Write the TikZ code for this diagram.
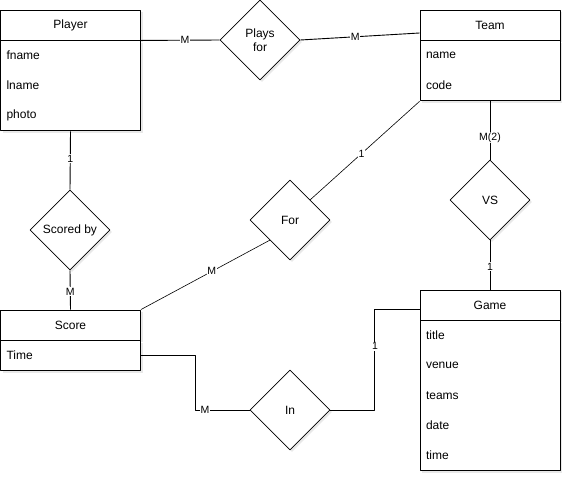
\documentclass[tikz,border=0pt]{standalone}
\usepackage{fontspec}
\setmainfont{Liberation Sans}
\usetikzlibrary{calc,shapes.geometric,shadows}

\tikzset{
	eshadow/.style={drop shadow={shadow xshift=2pt,shadow yshift=-2pt,opacity=0.18}},
	entity/.style={draw,fill=white,eshadow,minimum width=140pt,minimum height=30pt,inner sep=0pt,font=\fontsize{12}{14}\selectfont},
	attrbox/.style={draw,fill=white,eshadow,minimum width=140pt,inner sep=0pt,anchor=north},
	attr/.style={anchor=west,inner sep=0pt,font=\fontsize{12}{14}\selectfont},
	rel/.style={draw,diamond,aspect=1,fill=white,eshadow,minimum width=80pt,minimum height=80pt,inner sep=0pt,line width=0.6pt,font=\fontsize{12}{14}\selectfont,align=center},
	card/.style={fill=white,inner sep=0.8pt,font=\fontsize{10.5}{12}\selectfont},
}

\begin{document}
\begin{tikzpicture}[x=1pt,y=-1pt,line width=0.9pt,line join=round]
	\useasboundingbox (0,0) rectangle (572,482);
	% Entitaeten
	\node[entity] (player) at (70.5,25) {Player};
	\node[attrbox,minimum height=90pt] (playerA) at (player.south) {};
	\foreach \t [count=\i] in {fname,lname,photo}
		\node[attr] (player-\t) at ($(playerA.north west)+(6,{30*\i-15})$) {\t};
	\node[entity] (team) at (490,25) {Team};
	\node[attrbox,minimum height=60pt] (teamA) at (team.south) {};
	\foreach \t [count=\i] in {name,code}
		\node[attr] (team-\t) at ($(teamA.north west)+(6,{30*\i-15})$) {\t};
	\node[entity] (score) at (70.5,325) {Score};
	\node[attrbox,minimum height=30pt] (scoreA) at (score.south) {};
	\node[attr] (score-time) at ($(scoreA.north west)+(6,15)$) {Time};
	\node[entity] (game) at (490,305) {Game};
	\node[attrbox,minimum height=150pt] (gameA) at (game.south) {};
	\foreach \t [count=\i] in {title,venue,teams,date,time}
		\node[attr] (game-\t) at ($(gameA.north west)+(6,{30*\i-15})$) {\t};
	% Beziehungen
	\node[rel] (plays) at (260,40) {Plays\\for};
	\node[rel] (scored) at (70,230) {Scored by};
	\node[rel] (for) at (290,220) {For};
	\node[rel] (vs) at (490,200) {VS};
	\node[rel] (in) at (290,410) {In};
	% Verbindungen
	\coordinate (teamW) at ($(team.west)+(0,8)$);
	\coordinate (gameW) at ($(game.west)+(0,4)$);
	\coordinate (forSW) at ($(for.west)!0.5!(for.south)$);
	\coordinate (forNE) at ($(for.north)!0.5!(for.east)$);
	\coordinate (k1) at ($(scoreA.east)!0.5!(in.west)$);
	\coordinate (k2) at ($(in.east)!0.5!(gameW)$);
	\draw (player.south east) -- (plays.west) node[card,pos=0.56] {M};
	\draw (plays.east) -- (teamW) node[card,pos=0.46] {M};
	\draw (playerA.south) -- (scored.north) node[card,pos=0.47] {1};
	\draw (scored.south) -- (score.north) node[card,pos=0.55] {M};
	\draw[line width=0.6pt] (score.north east) -- (forSW) node[card,pos=0.55] {M};
	\draw[line width=0.6pt] (forNE) -- (teamA.south west) node[card,pos=0.47] {1};
	\draw (teamA.south) -- (vs.north) node[card,pos=0.62] {M(2)};
	\draw (vs.south) -- (game.north) node[card,pos=0.54] {1};
	\draw (scoreA.east) -| (k1) |- (in.west) node[card,pos=0.59] {M};
	\draw (in.east) -| (k2) |- (gameW) node[card,pos=0.13] {1};
\end{tikzpicture}
\end{document}
